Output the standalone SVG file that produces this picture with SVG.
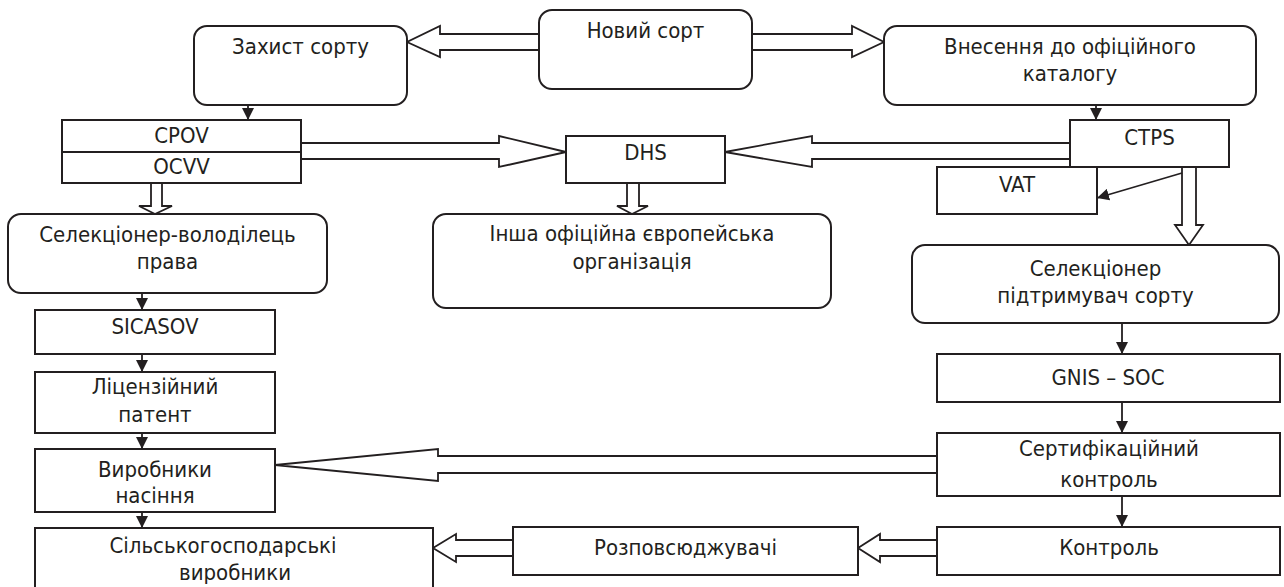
<svg xmlns="http://www.w3.org/2000/svg" width="1284" height="587" viewBox="0 0 1284 587">
<defs>
<style>
.b{fill:#fff;stroke:#231f20;stroke-width:2}
.t{font-family:"DejaVu Sans Condensed","DejaVu Sans",sans-serif;font-stretch:condensed;font-size:22px;fill:#231f20;text-anchor:middle}
.h{fill:#fff;stroke:#231f20;stroke-width:1.8;stroke-linejoin:miter}
.l{stroke:#231f20;stroke-width:1.8;fill:none}
</style>
<marker id="a" viewBox="0 0 12 12" refX="12" refY="6" markerWidth="12" markerHeight="12" markerUnits="userSpaceOnUse" orient="auto">
<path d="M0,0 L12,6 L0,12 Z" fill="#231f20"/>
</marker>
</defs>
<rect width="1284" height="587" fill="#fff"/>
<g id="connectors">
<polygon class="h" points="539,34 440,34 440,26 407,42 440,57 440,50 539,50"/>
<polygon class="h" points="752,34 852,34 852,26 884,42 852,57 852,50 752,50"/>
<polygon class="h" points="301,143 499,143 499,136 566,152 499,167 499,159 301,159"/>
<polygon class="h" points="1070,143 812,143 812,136 725,152 812,167 812,159 1070,159"/>
<polygon class="h" points="151,183 151,206 139,206 155,214 172,206 162,206 162,183"/>
<polygon class="h" points="627,183 627,206 617,206 632,214 648,206 639,206 639,183"/>
<polygon class="h" points="1182,167 1182,225 1175,225 1189,245 1203,225 1196,225 1196,167"/>
<polygon class="h" points="937,456 438,456 438,449 275,465 438,481 438,473 937,473"/>
<polygon class="h" points="937,540 880,540 880,534 858,548 880,562 880,556 937,556"/>
<polygon class="h" points="513,540 456,540 456,534 433,548 456,562 456,556 513,556"/>
<line class="l" x1="248" y1="105" x2="248" y2="120" marker-end="url(#a)"/>
<line class="l" x1="1096" y1="105" x2="1096" y2="120" marker-end="url(#a)"/>
<line class="l" x1="142" y1="293" x2="142" y2="310" marker-end="url(#a)"/>
<line class="l" x1="142" y1="354" x2="142" y2="372" marker-end="url(#a)"/>
<line class="l" x1="142" y1="433" x2="142" y2="449" marker-end="url(#a)"/>
<line class="l" x1="142" y1="512" x2="142" y2="528" marker-end="url(#a)"/>
<line class="l" x1="1122" y1="323" x2="1122" y2="354" marker-end="url(#a)"/>
<line class="l" x1="1122" y1="402" x2="1122" y2="433" marker-end="url(#a)"/>
<line class="l" x1="1122" y1="496" x2="1122" y2="527" marker-end="url(#a)"/>
<line class="l" x1="1182" y1="173" x2="1097" y2="198" marker-end="url(#a)"/>
</g>
<g id="n-novyi"><rect class="b" x="539" y="10" width="213" height="79" rx="13"/><text class="t" x="645.5" y="38">Новий сорт</text></g>
<g id="n-zakhyst"><rect class="b" x="194" y="26" width="213" height="79" rx="13"/><text class="t" x="300.5" y="54">Захист сорту</text></g>
<g id="n-vnesennia"><rect class="b" x="884" y="26" width="372" height="79" rx="13"/><text class="t" x="1070" y="54">Внесення до офіційного</text><text class="t" x="1070" y="81">каталогу</text></g>
<g id="n-cpov"><rect class="b" x="62" y="120" width="239" height="63"/><line class="l" x1="62" y1="152" x2="301" y2="152"/><text class="t" x="181.5" y="143">CPOV</text><text class="t" x="181.5" y="174">OCVV</text></g>
<g id="n-dhs"><rect class="b" x="566" y="136" width="159" height="47"/><text class="t" x="645.5" y="160">DHS</text></g>
<g id="n-ctps"><rect class="b" x="1070" y="120" width="159" height="47"/><text class="t" x="1149.5" y="145">CTPS</text></g>
<g id="n-vat"><rect class="b" x="937" y="167" width="160" height="47"/><text class="t" x="1017" y="192">VAT</text></g>
<g id="n-selektsioner-volodilets"><rect class="b" x="8" y="214" width="319" height="79" rx="13"/><text class="t" x="167.5" y="242">Селекціонер-володілець</text><text class="t" x="167.5" y="269">права</text></g>
<g id="n-insha"><rect class="b" x="433" y="214" width="398" height="94" rx="13"/><text class="t" x="632" y="241">Інша офіційна європейська</text><text class="t" x="632" y="269">організація</text></g>
<g id="n-selektsioner-pidtrymuvach"><rect class="b" x="912" y="245" width="367" height="78" rx="13"/><text class="t" x="1095.5" y="276">Селекціонер</text><text class="t" x="1095.5" y="303">підтримувач сорту</text></g>
<g id="n-sicasov"><rect class="b" x="35" y="310" width="240" height="44"/><text class="t" x="155" y="334">SICASOV</text></g>
<g id="n-litsenziinyi"><rect class="b" x="35" y="372" width="240" height="61"/><text class="t" x="155" y="394">Ліцензійний</text><text class="t" x="155" y="422">патент</text></g>
<g id="n-vyrobnyky-nasinnia"><rect class="b" x="35" y="449" width="240" height="63"/><text class="t" x="155" y="477">Виробники</text><text class="t" x="155" y="503">насіння</text></g>
<g id="n-silskogospodarski"><rect class="b" x="35" y="528" width="398" height="70"/><text class="t" x="223" y="553">Сільськогосподарські</text><text class="t" x="235" y="580">виробники</text></g>
<g id="n-gnis"><rect class="b" x="937" y="354" width="343" height="48"/><text class="t" x="1108" y="385">GNIS – SOC</text></g>
<g id="n-sertyfikatsiinyi"><rect class="b" x="937" y="433" width="343" height="63"/><text class="t" x="1109" y="456">Сертифікаційний</text><text class="t" x="1109" y="487">контроль</text></g>
<g id="n-kontrol"><rect class="b" x="937" y="527" width="343" height="48"/><text class="t" x="1109" y="555">Контроль</text></g>
<g id="n-rozpovsiudzhuvachi"><rect class="b" x="513" y="527" width="345" height="48"/><text class="t" x="685.5" y="555">Розповсюджувачі</text></g>
</svg>
